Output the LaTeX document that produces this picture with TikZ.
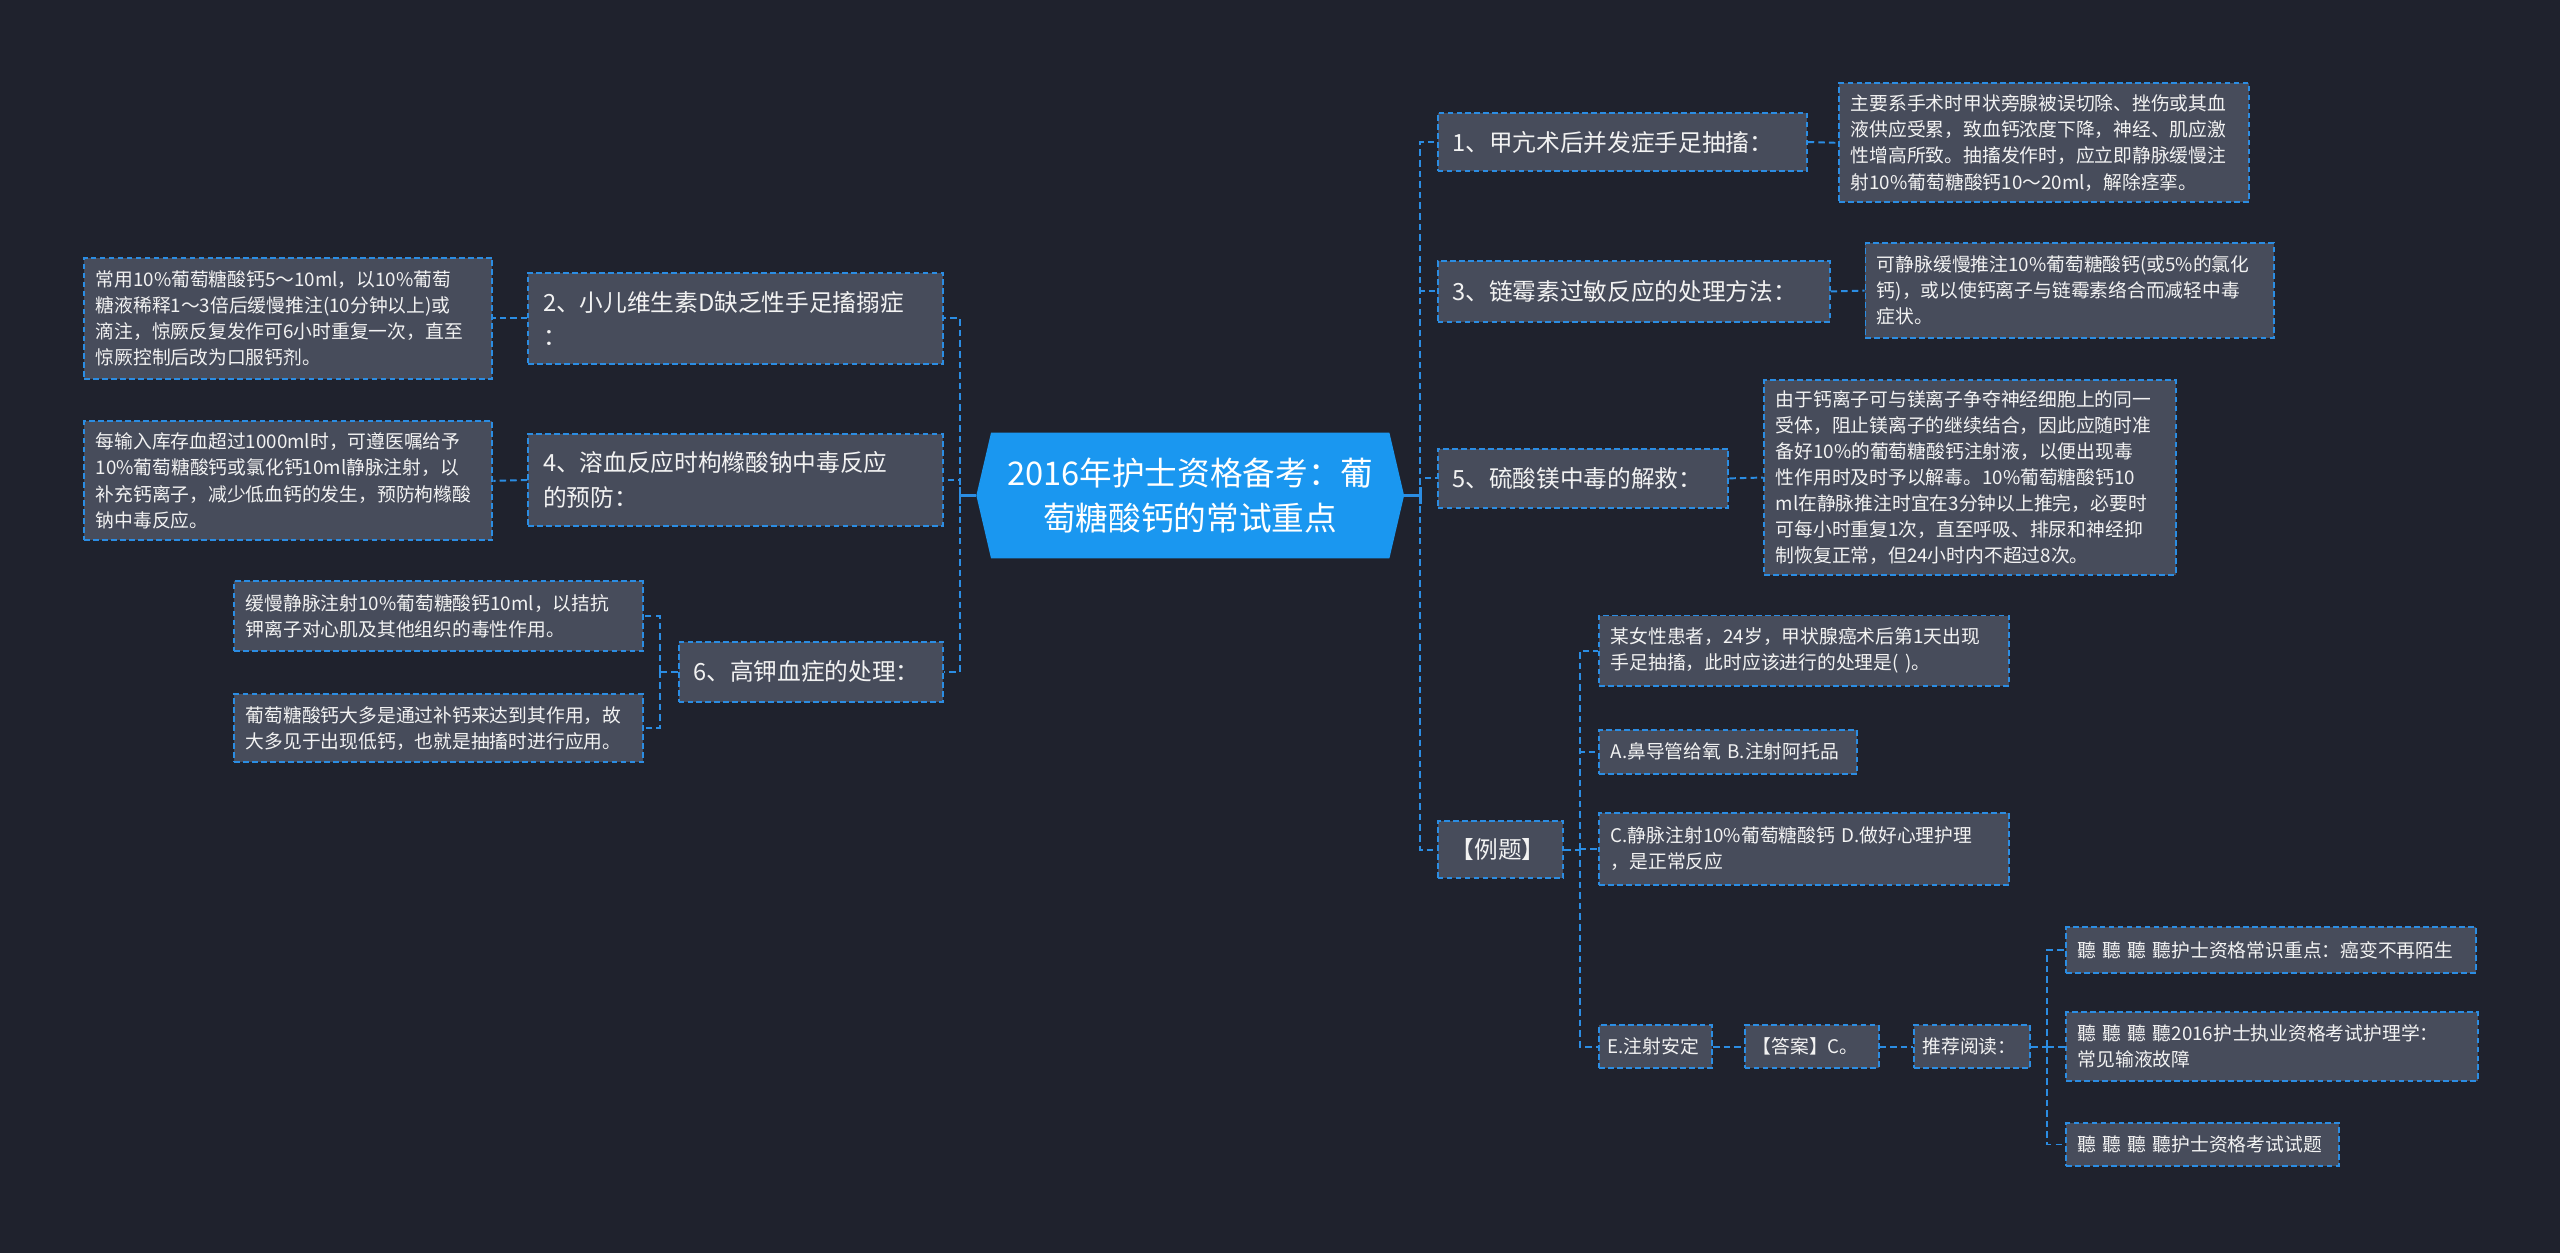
\documentclass[tikz,border=0pt]{standalone}
\usepackage{fontspec}
\setmainfont{Noto Sans CJK SC}
\definecolor{bgc}{HTML}{1F222D}
\definecolor{boxc}{HTML}{474C5B}
\definecolor{linec}{HTML}{2B8DE3}
\definecolor{txtc}{HTML}{F2F2F2}
\definecolor{cfill}{HTML}{1A97F0}
\newcommand{\myfdet}{\fontsize{11.5pt}{16pt}\selectfont}
\newcommand{\myfbr}{\fontsize{14.5pt}{21pt}\selectfont}
\newcommand{\myfctr}{\fontsize{20pt}{27pt}\selectfont}
\tikzset{
  box/.style={draw=linec, line width=1.2pt, dash pattern=on 3.5pt off 2pt,
    fill=boxc, text=txtc, inner xsep=7pt, inner ysep=2pt, align=left,
    anchor=west, font=\myfdet},
  smallbox/.style={box, inner xsep=5pt},
  brbox/.style={box, inner xsep=9pt, font=\myfbr},
  conn/.style={draw=linec, line width=1.2pt, dash pattern=on 4pt off 2.5pt},
  solidc/.style={draw=linec, line width=1.6pt},
}
\begin{document}
\begin{tikzpicture}[x=1pt,y=-1pt]
\useasboundingbox (0,0) rectangle (1568,767);
\fill[bgc] (-6,-6) rectangle (1574,773);

% center
\fill[cfill] (598,303.5) -- (607,265) -- (851,265) -- (860,303.5) -- (851,342) -- (607,342) -- cycle;
\node[font=\myfctr, text=white, align=center, minimum width=262pt, minimum height=77pt, inner sep=0pt] (c) at (729,303.5)
  {2016年护士资格备考：葡\\萄糖酸钙的常试重点};

% right branches
\node[brbox, text width=208pt, minimum height=36pt] (r1) at (880,87) {1、甲亢术后并发症手足抽搐：};
\node[box, text width=237pt, minimum height=73pt] (d1) at (1126,87.5)
  {主要系手术时甲状旁腺被误切除、挫伤或其血\\液供应受累，致血钙浓度下降，神经、肌应激\\性增高所致。抽搐发作时，应立即静脉缓慢注\\射10\%葡萄糖酸钙10～20ml，解除痉挛。};
\node[brbox, text width=222pt, minimum height=37pt] (r3) at (880,178.5) {3、链霉素过敏反应的处理方法：};
\node[box, text width=236pt, minimum height=58pt] (d3) at (1142,178)
  {可静脉缓慢推注10\%葡萄糖酸钙(或5\%的氯化\\钙)，或以使钙离子与链霉素络合而减轻中毒\\症状。};
\node[brbox, text width=160pt, minimum height=36pt] (r5) at (880,293) {5、硫酸镁中毒的解救：};
\node[box, text width=238pt, minimum height=119pt] (d5) at (1080,292.5)
  {由于钙离子可与镁离子争夺神经细胞上的同一\\受体，阻止镁离子的继续结合，因此应随时准\\备好10\%的葡萄糖酸钙注射液，以便出现毒\\性作用时及时予以解毒。10\%葡萄糖酸钙10\\ml在静脉推注时宜在3分钟以上推完，必要时\\可每小时重复1次，直至呼吸、排尿和神经抑\\制恢复正常，但24小时内不超过8次。};
\node[brbox, inner xsep=8pt, text width=61pt, minimum height=35pt] (r7) at (880,520.5) {【例题】};

\node[box, text width=237pt, minimum height=43pt] (q1) at (979,398.5)
  {某女性患者，24岁，甲状腺癌术后第1天出现\\手足抽搐，此时应该进行的处理是( )。};
\node[box, text width=144pt, minimum height=27pt] (q2) at (979,460.5) {A.鼻导管给氧 B.注射阿托品};
\node[box, text width=237pt, minimum height=44pt] (q3) at (979,520)
  {C.静脉注射10\%葡萄糖酸钙 D.做好心理护理\\，是正常反应};
\node[smallbox, text width=59pt, minimum height=26pt] (q4) at (979,641) {E.注射安定};
\node[smallbox, text width=72pt, minimum height=26pt] (ans) at (1068,641) {【答案】C。};
\node[smallbox, text width=61pt, minimum height=26pt] (rec) at (1172,641) {推荐阅读：};
\node[box, text width=237pt, minimum height=28pt] (l1) at (1265,582) {聽 聽 聽 聽护士资格常识重点：癌变不再陌生};
\node[box, text width=238pt, minimum height=42pt] (l2) at (1265,641) {聽 聽 聽 聽2016护士执业资格考试护理学：\\常见输液故障};
\node[box, text width=153pt, minimum height=26pt] (l3) at (1265,701) {聽 聽 聽 聽护士资格考试试题};

% left branches
\node[brbox, text width=236pt, minimum height=56pt] (lb2) at (323,195) {2、小儿维生素D缺乏性手足搐搦症\\：};
\node[box, text width=236pt, minimum height=74pt] (ld2) at (51,195)
  {常用10\%葡萄糖酸钙5～10ml，以10\%葡萄\\糖液稀释1～3倍后缓慢推注(10分钟以上)或\\滴注，惊厥反复发作可6小时重复一次，直至\\惊厥控制后改为口服钙剂。};
\node[brbox, text width=236pt, minimum height=56pt] (lb4) at (323,294) {4、溶血反应时枸橼酸钠中毒反应\\的预防：};
\node[box, text width=236pt, minimum height=73pt] (ld4) at (51,294.5)
  {每输入库存血超过1000ml时，可遵医嘱给予\\10\%葡萄糖酸钙或氯化钙10ml静脉注射，以\\补充钙离子，减少低血钙的发生，预防枸橼酸\\钠中毒反应。};
\node[brbox, text width=144pt, minimum height=37pt] (lb6) at (415,411.5) {6、高钾血症的处理：};
\node[box, text width=236pt, minimum height=43pt] (ld6a) at (143,377.5)
  {缓慢静脉注射10\%葡萄糖酸钙10ml，以拮抗\\钾离子对心肌及其他组织的毒性作用。};
\node[box, text width=236pt, minimum height=42pt] (ld6b) at (143,446)
  {葡萄糖酸钙大多是通过补钙来达到其作用，故\\大多见于出现低钙，也就是抽搐时进行应用。};

% trunks
\coordinate (tR) at (870,303.5);
\coordinate (tLf) at (588,303.5);
\coordinate (tQ) at (968,520.5);
\coordinate (tRec) at (1254,641);
\coordinate (t6) at (404,411.5);

% connectors right
\draw[solidc] (c.east) -- (tR);
\draw[solidc] ([yshift=-5pt]tR) -- ([yshift=5pt]tR);
\foreach \n in {r1,r3,r5,r7} \draw[conn] (tR) |- (\n.west);
\draw[conn] (r1.east) -- (d1.west);
\draw[conn] (r3.east) -- (d3.west);
\draw[conn] (r5.east) -- (d5.west);
\draw[conn] (r7.east) -- (tQ);
\foreach \n in {q1,q2,q3,q4} \draw[conn] (tQ) |- (\n.west);
\draw[conn] (q4.east) -- (ans.west);
\draw[conn] (ans.east) -- (rec.west);
\draw[conn] (rec.east) -- (tRec);
\foreach \n in {l1,l2,l3} \draw[conn] (tRec) |- (\n.west);

% connectors left
\draw[solidc] (c.west) -- (tLf);
\draw[solidc] ([yshift=-5pt]tLf) -- ([yshift=5pt]tLf);
\foreach \n in {lb2,lb4,lb6} \draw[conn] (tLf) |- (\n.east);
\draw[conn] (lb2.west) -- (ld2.east);
\draw[conn] (lb4.west) -- (ld4.east);
\draw[conn] (lb6.west) -- (t6);
\foreach \n in {ld6a,ld6b} \draw[conn] (t6) |- (\n.east);
\end{tikzpicture}
\end{document}
